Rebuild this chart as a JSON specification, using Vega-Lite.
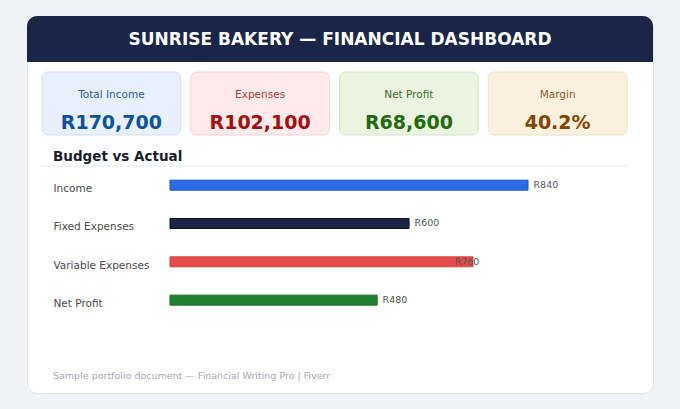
{
  "$schema": "https://vega.github.io/schema/vega-lite/v6.json",
  "width": 626,
  "height": 377,
  "padding": {"left": 27, "top": 16, "right": 27, "bottom": 16},
  "autosize": {"type": "none"},
  "background": "#f0f2f7",
  "config": {
    "font": "DejaVu Sans",
    "view": {"fill": "#ffffff", "stroke": "#e1e4ec", "cornerRadius": 10}
  },
  "resolve": {
    "scale": {"x": "independent", "y": "independent", "color": "independent", "fill": "independent", "stroke": "independent"},
    "axis": {"x": "independent", "y": "independent"}
  },
  "layer": [
    {
      "data": {"values": [{"title": "SUNRISE BAKERY — FINANCIAL DASHBOARD"}]},
      "encoding": {
        "y": {"field": "title", "type": "nominal", "scale": {"range": [0, 46], "paddingInner": 0, "paddingOuter": 0}, "axis": null}
      },
      "layer": [
        {"mark": {"type": "rect", "fill": "#1b2547", "cornerRadiusTopLeft": 10, "cornerRadiusTopRight": 10}},
        {
          "mark": {"type": "text", "fill": "#ffffff", "fontSize": 17, "fontWeight": "bold", "baseline": "middle", "dy": 1},
          "encoding": {"text": {"field": "title"}}
        }
      ]
    },
    {
      "data": {"values": [
        {"card": "Total Income", "value": "R170,700"},
        {"card": "Expenses", "value": "R102,100"},
        {"card": "Net Profit", "value": "R68,600"},
        {"card": "Margin", "value": "40.2%"}
      ]},
      "encoding": {
        "x": {"field": "card", "type": "nominal", "sort": null, "scale": {"range": [15, 600], "paddingInner": 0.0672, "paddingOuter": 0}, "axis": null},
        "y": {"datum": "kpi", "type": "nominal", "scale": {"range": [56, 119], "paddingInner": 0, "paddingOuter": 0}, "axis": null}
      },
      "resolve": {"scale": {"color": "independent"}},
      "layer": [
        {
          "mark": {"type": "rect", "cornerRadius": 6, "strokeWidth": 1},
          "encoding": {
            "fill": {"field": "card", "type": "nominal", "scale": {"domain": ["Total Income", "Expenses", "Net Profit", "Margin"], "range": ["#e7f0fc", "#fdeaea", "#eaf4e1", "#fcf0de"]}, "legend": null},
            "stroke": {"field": "card", "type": "nominal", "scale": {"domain": ["Total Income", "Expenses", "Net Profit", "Margin"], "range": ["#cfdff4", "#f3d4d4", "#d3e6c5", "#f2dfc4"]}, "legend": null}
          }
        },
        {
          "mark": {"type": "text", "fontSize": 10.5, "baseline": "middle", "dy": -8.5},
          "encoding": {
            "text": {"field": "card"},
            "color": {"field": "card", "type": "nominal", "scale": {"domain": ["Total Income", "Expenses", "Net Profit", "Margin"], "range": ["#2d5e9f", "#a63b3b", "#3e6c2b", "#8a5a2f"]}, "legend": null}
          }
        },
        {
          "mark": {"type": "text", "fontSize": 19, "fontWeight": "bold", "baseline": "middle", "dy": 19},
          "encoding": {
            "text": {"field": "value"},
            "color": {"field": "card", "type": "nominal", "scale": {"domain": ["Total Income", "Expenses", "Net Profit", "Margin"], "range": ["#0b52a0", "#a30f10", "#236a0e", "#874400"]}, "legend": null}
          }
        }
      ]
    },
    {
      "data": {"values": [{"heading": "Budget vs Actual"}]},
      "mark": {"type": "rect", "fill": "#e7e9ef"},
      "encoding": {
        "x": {"field": "heading", "type": "nominal", "scale": {"range": [13, 600], "paddingInner": 0, "paddingOuter": 0}, "axis": null},
        "y": {"field": "heading", "type": "nominal", "scale": {"range": [149.5, 150.5], "paddingInner": 0, "paddingOuter": 0}, "axis": null}
      }
    },
    {
      "data": {"values": [{"heading": "Budget vs Actual"}]},
      "mark": {"type": "text", "align": "left", "baseline": "middle", "fontSize": 13.5, "fontWeight": "bold", "fill": "#1a1d2e"},
      "encoding": {
        "text": {"field": "heading"},
        "x": {"field": "heading", "type": "nominal", "scale": {"type": "point", "range": [26, 600], "align": 0, "padding": 0}, "axis": null},
        "y": {"field": "heading", "type": "nominal", "scale": {"type": "point", "range": [133, 149], "padding": 0}, "axis": null}
      }
    },
    {
      "data": {"values": [
        {"category": "Income", "actual": 840, "labelAt": 840, "label": "R840"},
        {"category": "Fixed Expenses", "actual": 561, "labelAt": 561, "label": "R600"},
        {"category": "Variable Expenses", "actual": 711, "labelAt": 655, "label": "R760"},
        {"category": "Net Profit", "actual": 486, "labelAt": 486, "label": "R480"}
      ]},
      "encoding": {
        "y": {
          "field": "category", "type": "nominal", "sort": null,
          "scale": {"range": [150, 303.3], "paddingInner": 0, "paddingOuter": 0},
          "axis": {
            "orient": "left", "offset": -26, "domain": false, "ticks": false, "grid": false,
            "labelAlign": "left", "labelPadding": 0, "labelOffset": 4, "labelBaseline": "middle",
            "labelFontSize": 10.5, "labelColor": "#4a4a4a", "labelFont": "DejaVu Sans", "title": null
          }
        },
        "x": {
          "field": "actual", "type": "quantitative",
          "scale": {"domain": [-305, 1072.3], "range": [13, 600], "nice": false, "zero": false},
          "axis": null
        }
      },
      "layer": [
        {
          "mark": {"type": "bar", "height": 10, "strokeWidth": 1},
          "encoding": {
            "fill": {"field": "category", "type": "nominal", "scale": {"domain": ["Income", "Fixed Expenses", "Variable Expenses", "Net Profit"], "range": ["#2d6be4", "#1b2545", "#e64b4b", "#1f8030"]}, "legend": null},
            "stroke": {"field": "category", "type": "nominal", "scale": {"domain": ["Income", "Fixed Expenses", "Variable Expenses", "Net Profit"], "range": ["#1a55d0", "#0c1126", "#e04040", "#196b26"]}, "legend": null}
          }
        },
        {
          "mark": {"type": "text", "align": "left", "baseline": "middle", "dx": 5.5, "fontSize": 9.5, "fill": "#555555"},
          "encoding": {
            "x": {"field": "labelAt", "type": "quantitative", "axis": null},
            "text": {"field": "label"}
          }
        }
      ]
    },
    {
      "data": {"values": [{"note": "Sample portfolio document — Financial Writing Pro | Fiverr"}]},
      "mark": {"type": "text", "align": "left", "baseline": "middle", "fontSize": 9.5, "fill": "#a6a9b1"},
      "encoding": {
        "text": {"field": "note"},
        "x": {"field": "note", "type": "nominal", "scale": {"type": "point", "range": [26, 600], "align": 0, "padding": 0}, "axis": null},
        "y": {"field": "note", "type": "nominal", "scale": {"type": "point", "range": [352, 368], "padding": 0}, "axis": null}
      }
    }
  ]
}
